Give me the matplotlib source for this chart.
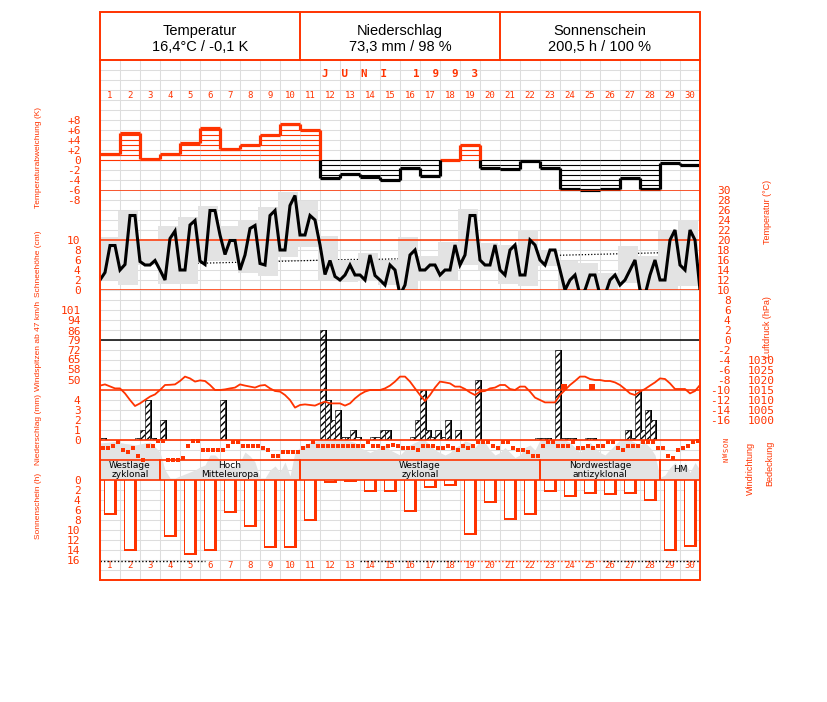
import matplotlib.pyplot as plt
from matplotlib.patches import Rectangle
from matplotlib.lines import Line2D
import numpy as np

W, H = 827, 702
ROT = '#ff3300'
GITTER = '#dddddd'
GRAU = '#e3e3e3'
MONO = 'DejaVu Sans Mono'
SCHMAL = ['Liberation Sans', 'DejaVu Sans']
plt.rcParams['font.family'] = MONO

# ---- Daten Juni 1993 ----
tage = np.arange(1, 31)

# Abweichung der Tagesmitteltemperatur (K)
abweichung = [1.3, 5.5, 0.3, 1.3, 3.5, 6.5, 2.2, 3.0, 5.1, 7.3,
              6.1, -3.5, -2.7, -3.3, -4.0, -1.5, -3.1, 0.1, 3.1, -1.5,
              -1.8, -0.2, -1.6, -5.7, -5.9, -5.7, -3.5, -5.7, -0.6, -1.0]

# Temperatur (°C), 4 Werte je Tag + Schlusswert
temperatur = [12, 13.5, 18.9, 18.9, 14, 15.1, 24.9, 24.9, 15.7, 15, 15, 15.9,
              14, 12, 20.3, 21.8, 14, 14, 23, 23.9, 15.8, 15.1, 25.9, 25.9,
              21, 17.1, 19.9, 19.9, 14, 17, 22.3, 22.9, 15.3, 15, 24.9, 25.9,
              18, 18, 26.9, 28.9, 21, 21, 24.9, 24, 19, 13.1, 15.9, 12.7,
              12, 13, 15, 13, 13, 12, 17, 12.9, 12, 11, 15, 14,
              9, 11, 17, 18, 14, 14, 15, 15, 13, 14, 14, 19,
              15, 17, 24.9, 24.9, 16, 15, 15, 19, 14, 13, 18, 19,
              13, 13, 20, 19, 16, 15, 18, 18, 14, 10, 12, 13,
              9, 10, 13, 13, 9, 9, 12, 13, 11, 12, 14, 16,
              10, 9, 13, 16, 12, 12, 20, 22, 15, 14, 22, 20, 10]

temp_max = [20.5, 25.7, 20.1, 22.8, 24.5, 26.8, 22.7, 24.0, 26.7, 29.5,
            27.7, 20.8, 16.0, 17.3, 15.7, 20.5, 16.7, 19.5, 26.2, 19.3,
            19.0, 21.9, 18.0, 15.7, 15.3, 13.3, 18.7, 16.7, 21.7, 24.0]
temp_min = [12.0, 11.0, 15.0, 11.2, 11.2, 15.9, 15.7, 13.3, 12.7, 16.5,
            18.5, 11.9, 11.5, 11.7, 11.0, 8.7, 11.7, 12.0, 15.0, 14.0,
            11.1, 10.7, 14.7, 9.7, 8.7, 8.0, 11.3, 9.0, 9.3, 10.7]
# langjähriges Mittel (°C)
temp_normal = [15.0, 15.1, 15.2, 15.3, 15.3, 15.4, 15.5, 15.6, 15.7, 15.8,
               15.9, 16.0, 16.1, 16.1, 16.2, 16.3, 16.4, 16.5, 16.6, 16.7,
               16.8, 16.8, 16.9, 17.0, 17.1, 17.2, 17.3, 17.4, 17.5, 17.5]

# Luftdruck (hPa), 4 Werte je Tag + Schlusswert
luftdruck = [1017.2, 1017.8, 1016.8, 1015.8, 1015.8, 1013.3, 1010.0, 1007.0,
             1008.3, 1010.0, 1011.7, 1012.8, 1015.0, 1017.5, 1017.6, 1017.8,
             1019.5, 1021.7, 1020.8, 1019.2, 1019.8, 1019.5, 1017.5, 1015.0,
             1015.0, 1015.3, 1015.8, 1016.2, 1017.8, 1017.2, 1016.7, 1016.2,
             1017.2, 1017.5, 1015.8, 1014.5, 1014.2, 1012.5, 1010.0, 1006.2,
             1007.5, 1007.8, 1007.5, 1007.2, 1008.3, 1009.2, 1008.3, 1008.3,
             1008.3, 1007.2, 1008.3, 1010.8, 1012.8, 1014.2, 1015.0, 1015.0,
             1015.0, 1015.8, 1017.2, 1019.2, 1021.7, 1021.7, 1019.2, 1015.8,
             1012.5, 1009.5, 1012.5, 1016.2, 1019.2, 1018.8, 1018.3, 1016.7,
             1016.7, 1015.5, 1013.8, 1012.5, 1014.2, 1014.5, 1015.8, 1016.2,
             1017.5, 1017.5, 1015.5, 1015.0, 1016.7, 1016.7, 1014.2, 1011.2,
             1010.0, 1008.8, 1008.8, 1008.8, 1012.5, 1015.0, 1017.5, 1019.5,
             1021.7, 1021.7, 1020.5, 1020.0, 1020.0, 1019.5, 1019.5, 1018.8,
             1017.5, 1015.5, 1013.3, 1012.5, 1014.2, 1015.5, 1017.2, 1018.8,
             1020.8, 1020.5, 1018.3, 1015.5, 1015.5, 1015.5, 1013.3, 1014.5,
             1017.5]

# Niederschlag (mm) in 4 Abschnitten je Tag
niederschlag = [[0.2, 0, 0, 0], [0, 0, 0, 0.2], [1.0, 4.0, 0.2, 0], [2.0, 0, 0, 0],
                [0, 0, 0, 0], [0, 0, 0, 0], [4.0, 0, 0, 0], [0, 0, 0, 0],
                [0, 0, 0, 0], [0, 0, 0, 0], [0, 0, 0, 0], [11.0, 4.0, 2.0, 3.0],
                [0.3, 0.3, 1.0, 0.3], [0, 0, 0.3, 0.3], [1.0, 1.0, 0, 0], [0, 0, 0.3, 2.0],
                [5.0, 1.0, 0.3, 1.0], [0.3, 2.0, 0, 1.0], [0, 0, 0, 6.0], [0, 0, 0, 0],
                [0, 0, 0, 0], [0, 0, 0, 0.2], [0.2, 0.2, 0, 9.0], [0.2, 0.2, 0.2, 0],
                [0, 0.2, 0.2, 0], [0, 0, 0, 0], [0, 1.0, 0.2, 5.0], [1.0, 3.0, 2.0, 0],
                [0, 0, 0, 0], [0, 0, 0, 0]]

# Windspitzen (km/h)
boen_zeit = [23.2, 24.6]
boen_wert = [45, 45]

# Windrichtung (Grad), 4 Werte je Tag
windrichtung = [138, 138, 102, 42, 180, 222, 138, 282, 360, 102, 102, 18,
                18, 360, 360, 360, 318, 102, 18, 18, 180, 180, 180, 180,
                180, 102, 42, 42, 102, 102, 102, 102, 138, 180, 282, 282,
                222, 222, 222, 222, 138, 102, 42, 102, 102, 102, 102, 102,
                102, 102, 102, 102, 102, 42, 102, 102, 138, 102, 90, 102,
                138, 138, 138, 180, 102, 102, 102, 138, 138, 102, 138, 180,
                102, 138, 102, 42, 42, 42, 102, 138, 42, 42, 138, 180,
                180, 222, 282, 282, 102, 42, 42, 102, 102, 102, 42, 138,
                138, 102, 138, 102, 102, 42, 42, 138, 180, 102, 102, 102,
                42, 42, 42, 138, 138, 282, 318, 180, 138, 102, 42, 18]

# Bedeckung (Achtel), 4 Werte je Tag + Schlusswert
bedeckung = [7.4, 7.5, 7.6, 7.7, 7.5, 7.3, 7.2, 7.0, 7.2, 7.4, 7.6, 6.6,
             5.6, 2.0, 0.4, 0.4, 0.8, 1.2, 1.6, 2.0, 2.6, 3.0, 5.0, 5.0,
             4.0, 3.0, 2.4, 3.0, 3.6, 5.6, 4.8, 3.6, 0.4, 0.4, 2.0, 2.8,
             1.6, 3.6, 0.8, 5.6, 6.5, 7.0, 7.5, 7.8, 8, 8, 8, 8,
             8, 8, 7.8, 7.5, 6.5, 6.0, 5.5, 6.0, 6.5, 7.0, 6.0, 5.5,
             5.0, 6.0, 7.0, 7.5, 8, 8, 7.0, 6.0, 5.5, 5.0, 5.5, 6.5,
             7.0, 7.8, 7.5, 6.5, 7.8, 7.5, 6.0, 5.0, 5.5, 6.5, 5.5, 4.5,
             5.0, 6.5, 7.0, 6.0, 8, 8, 8, 8, 8, 8, 7.5, 6.5,
             5.5, 6.5, 7.5, 6.5, 5.5, 5.0, 6.0, 7.0, 8, 8, 8, 7.5,
             7.0, 7.5, 6.5, 5.0, 0.5, 1.0, 2.5, 3.5, 2.0, 3.5, 1.5, 3.5, 2.0]

# Großwetterlagen
lagen = ['Westlage\nzyklonal', 'Hoch\nMitteleuropa', 'Westlage\nzyklonal',
         'Nordwestlage\nantizyklonal', 'HM']
lagen_beginn = [0, 3, 10, 22, 28]
lagen_ende = [3, 10, 22, 28, 30]

# Sonnenscheindauer (h)
sonne = [6.9, 14.1, 0, 11.3, 14.9, 14.1, 6.5, 9.3, 13.5, 13.5,
         8.1, 0.5, 0.4, 2.3, 2.3, 6.3, 1.5, 1.1, 10.9, 4.5,
         7.9, 6.9, 2.3, 3.3, 2.7, 3.0, 2.7, 4.1, 14.1, 13.3]
sonne_moeglich = 16.2
sonne_linie = [(0, 5.25, 'black'), (13, 18, 'black'), (18, 25.15, ROT), (25.15, 30, 'black')]

# ---- Figur ----
fig = plt.figure(figsize=(W / 100, H / 100), dpi=100)


def fy(y):
    return 1 - y / H


def band(top, bottom, ylim):
    ax = fig.add_axes([100 / W, fy(bottom), 600 / W, (bottom - top) / H])
    ax.set_xlim(0, 30)
    ax.set_ylim(*ylim)
    ax.patch.set_visible(False)
    for s in ax.spines.values():
        s.set_visible(False)
    ax.set_xticks([])
    ax.set_yticks([])
    return ax


def achse(ax, werte, texte, seite='left', pad=13, size=8, rot=0):
    ax.set_yticks(werte, texte)
    if seite == 'right':
        ax.yaxis.tick_right()
    ax.tick_params(axis='y', length=0, pad=pad, labelcolor=ROT, labelsize=size)
    for t in ax.get_yticklabels():
        t.set_rotation(rot)
        if seite == 'right':
            t.set_ha('right' if rot == 0 else 'center')


# Hintergrundgitter
bg = band(60, 580, (52, 0))
bg.set_xticks(range(31))
bg.set_yticks(range(53))
bg.tick_params(length=0, labelleft=False, labelbottom=False)
bg.grid(True, color=GITTER, lw=0.75)
bg.set_axisbelow(True)
bg.text(15, 1.4, 'J  U  N  I    1  9  9  3', ha='center', va='center', color=ROT,
        fontsize=7.8, fontweight='bold')
for d in tage:
    bg.text(d - 0.5, 3.6, str(d), ha='center', va='center', color=ROT, fontsize=6.5)
    bg.text(d - 0.5, 50.6, str(d), ha='center', va='center', color=ROT, fontsize=6.5)

# Temperaturabweichung
ax_a = band(100, 200, (-8, 12))
for i, v in enumerate(abweichung):
    farbe = ROT if v >= 0 else 'black'
    for k in range(int(abs(v)) + 1):
        ax_a.hlines(np.sign(v) * k, i, i + 1, color=farbe, lw=0.8)
    ax_a.hlines(v, i, i + 1, color=farbe, lw=2.3)
for i in range(1, 30):
    a, b = abweichung[i - 1], abweichung[i]
    if a * b >= 0:
        ax_a.vlines(i, a, b, color=ROT if a + b >= 0 else 'black', lw=2.3)
    else:
        ax_a.vlines(i, 0, a, color=ROT if a > 0 else 'black', lw=2.3)
        ax_a.vlines(i, 0, b, color=ROT if b > 0 else 'black', lw=2.3)
achse(ax_a, [8, 6, 4, 2, 0, -2, -4, -6, -8],
      ['+8', '+6', '+4', '+2', '0', '-2', '-4', '-6', '-8'], pad=14)

# Temperatur
ax_t = band(190, 290, (10, 30))
ax_t.bar(tage - 0.62, np.subtract(temp_max, temp_min), bottom=temp_min, width=1,
         color=GRAU, zorder=2)
ax_t.plot(tage - 0.5, temp_normal, ls=(0, (1, 1.5)), color='black', lw=0.9, zorder=1)
x4 = np.arange(121) * 0.25
ax_t.plot(x4, temperatur, color='black', lw=2.2, zorder=4, solid_joinstyle='miter')
for v in (10, 20, 30):
    ax_t.axhline(v, color=ROT, lw=1.1, zorder=3)
achse(ax_t, range(10, 31, 2), [str(v) for v in range(10, 31, 2)], 'right', pad=22)

ax_sh = band(190, 290, (0, 20))
achse(ax_sh, range(0, 11, 2), [str(v) for v in range(0, 11, 2)], pad=14)

# Niederschlag / Wind / Luftdruck
ax_n = band(300, 440, (0, 14))
nied = np.ravel(niederschlag)
xs = np.arange(120) * 0.25
m = nied > 0
ax_n.bar(xs[m] + 0.1, nied[m], width=0.25, align='edge', color='black', zorder=2)
ax_n.bar(xs[m], nied[m], width=0.25, align='edge', facecolor='white',
         edgecolor='black', hatch='/////', lw=0.4, zorder=3)
ax_n.axhline(0, color=ROT, lw=1.2, zorder=5)
achse(ax_n, range(0, 5), [str(v) for v in range(0, 5)], pad=14)

ax_w = band(300, 440, (50 - 60 * 51 / 70, 50 + 80 * 51 / 70))
ax_w.plot(boen_zeit, boen_wert, 's', color=ROT, ms=4.5, mew=0)
wind_werte = [101, 94, 86, 79, 72, 65, 58, 50]
achse(ax_w, wind_werte, [str(v) for v in wind_werte], pad=14)

ax_t2 = band(300, 440, (-20, 8))
ax_t2.axhline(0, color='black', lw=1.1)
achse(ax_t2, range(8, -17, -2), [str(v) for v in range(8, -17, -2)], 'right', pad=22)

ax_p = band(300, 440, (990, 1060))
ax_p.plot(x4, luftdruck, color=ROT, lw=1.3, zorder=4)
ax_p.axhline(1015, color=ROT, lw=1.1)
achse(ax_p, range(1000, 1031, 5), [str(v) for v in range(1000, 1031, 5)], 'right', pad=54)

# Bedeckung und Großwetterlagen
ax_c = band(440, 480, (0, 8))
ax_c.fill_between(x4, bedeckung, color=GRAU, lw=0)
for name, a, e in zip(lagen, lagen_beginn, lagen_ende):
    ax_c.add_patch(Rectangle((a, 0), e - a, 4, fill=False, edgecolor=ROT, lw=1.2))
    ax_c.text((a + e) / 2, 2, name, ha='center', va='center', fontsize=6.5,
              family='DejaVu Sans', linespacing=0.95)

# Windrichtung
ax_d = band(440, 460, (360, 0))
ax_d.plot(xs + 0.125, windrichtung, 's', color=ROT, ms=2.2, mew=0, clip_on=False)
ax_d.axhline(0, color=ROT, lw=1.2)
achse(ax_d, [0, 90, 180, 270, 360], ['N', 'O', 'S', 'W', 'N'], 'right', pad=19,
      size=5, rot=90)

# Sonnenschein
ax_s = band(480, 580, (20, 0))
sonne_a = np.array(sonne)
ax_s.bar(tage - 0.475, sonne_a, width=0.65, color=ROT, zorder=3)
ax_s.bar(tage - 0.535, np.clip(sonne_a - 0.4, 0, None), width=0.43, color='white', zorder=4)
for a, e, farbe in sonne_linie:
    ax_s.hlines(sonne_moeglich, a, e, color=farbe, lw=1.0, ls=(0, (1, 1.5)))
ax_s.axhline(0, color=ROT, lw=1.2, zorder=5)
achse(ax_s, range(0, 17, 2), [str(v) for v in range(0, 17, 2)], pad=14)

# Rahmen und Kopf
fig.add_artist(Rectangle((100 / W, fy(580)), 600 / W, 568 / H, transform=fig.transFigure,
                         fill=False, edgecolor=ROT, lw=1.4))
fig.add_artist(Line2D([100 / W, 700 / W], [fy(60), fy(60)], color=ROT, lw=1.4))
for xk in (300, 500):
    fig.add_artist(Line2D([xk / W, xk / W], [fy(12), fy(60)], color=ROT, lw=1.4))
kopf = [('Temperatur', '16,4°C / -0,1 K'), ('Niederschlag', '73,3 mm / 98 %'),
        ('Sonnenschein', '200,5 h / 100 %')]
for k, (t1, t2) in enumerate(kopf):
    fig.text((200 + 200 * k) / W, fy(31), t1, ha='center', va='center',
             family='Liberation Sans', fontsize=10.5)
    fig.text((200 + 200 * k) / W, fy(47), t2, ha='center', va='center',
             family='Liberation Sans', fontsize=10.5)

titel_links = [('Temperaturabweichung (K)', 158), ('Schneehöhe (cm)', 264),
               ('Windspitzen ab 47 km/h', 346), ('Niederschlag (mm)', 429),
               ('Sonnenschein (h)', 506)]
for t, y in titel_links:
    fig.text(38 / W, fy(y), t, rotation=90, ha='center', va='center', color=ROT,
             family=SCHMAL, fontsize=6)
titel_rechts = [('Temperatur (°C)', 768, 212), ('Luftdruck (hPa)', 768, 327),
                ('Windrichtung', 750, 468), ('Bedeckung', 770, 463)]
for t, x, y in titel_rechts:
    fig.text(x / W, fy(y), t, rotation=90, ha='center', va='center', color=ROT,
             family=SCHMAL, fontsize=6.5)

fig.savefig('out.png', dpi=100)
